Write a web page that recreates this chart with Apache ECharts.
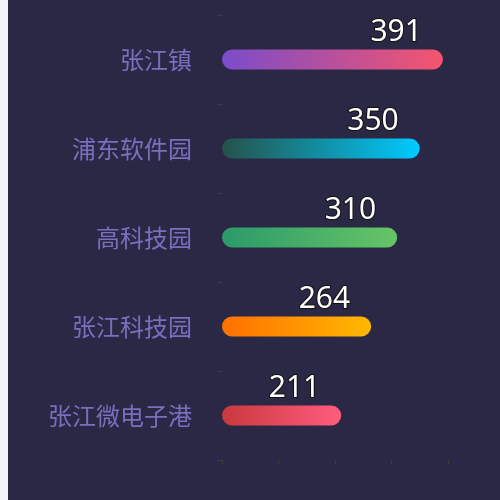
<!DOCTYPE html>
<html>
<head>
<meta charset="utf-8">
<script src="https://cdn.jsdelivr.net/npm/echarts@6/dist/echarts.min.js"></script>
<style>
html,body{margin:0;padding:0;background:#f3f4f9;overflow:hidden;}
#c{position:absolute;left:8px;top:0;width:492px;height:500px;background:#2a2844;}
</style>
</head>
<body>
<div id="c"></div>
<script>
var categories = ['张江镇', '浦东软件园', '高科技园', '张江科技园', '张江微电子港'];
var values = [391, 350, 310, 264, 211];
var gradientStart = ['#7a4cca', '#25524a', '#2b9a6a', '#ff7000', '#c8393f'];
var gradientEnd = ['#f6546e', '#00cbff', '#66c566', '#ffb800', '#ff5c7d'];

var chart = echarts.init(document.getElementById('c'));
var dataItems = values.map(function (v, i) {
  return {
    value: v,
    itemStyle: {
      color: new echarts.graphic.LinearGradient(0, 0, 1, 0, [
        { offset: 0, color: gradientStart[i] },
        { offset: 1, color: gradientEnd[i] }
      ])
    }
  };
});
chart.setOption({
  backgroundColor: '#2a2844',
  grid: { left: 214, right: 52, top: 15, bottom: 40 },
  xAxis: {
    type: 'value',
    min: 0,
    max: 400,
    interval: 100,
    axisLine: { show: false },
    axisTick: { show: true, length: 5, lineStyle: { color: '#3c3b3e' } },
    axisLabel: { show: false },
    splitLine: { show: false }
  },
  yAxis: {
    type: 'category',
    inverse: true,
    data: categories,
    axisLine: { show: false },
    axisTick: { show: true, length: 5, lineStyle: { color: '#3c3b3e' } },
    axisLabel: {
      color: '#7770bf',
      fontSize: 24,
      margin: 30,
      fontFamily: '"Noto Sans CJK SC", sans-serif'
    },
    splitLine: { show: false }
  },
  series: [{
    type: 'bar',
    data: dataItems,
    barWidth: 20,
    itemStyle: { borderRadius: 10 },
    label: {
      show: true,
      position: 'insideRight',
      offset: [-16, -27],
      color: '#ffffff',
      fontSize: 30,
      fontFamily: '"Noto Sans", sans-serif',
      textBorderColor: '#111111',
      textBorderWidth: 2
    }
  }]
});
</script>
</body>
</html>
